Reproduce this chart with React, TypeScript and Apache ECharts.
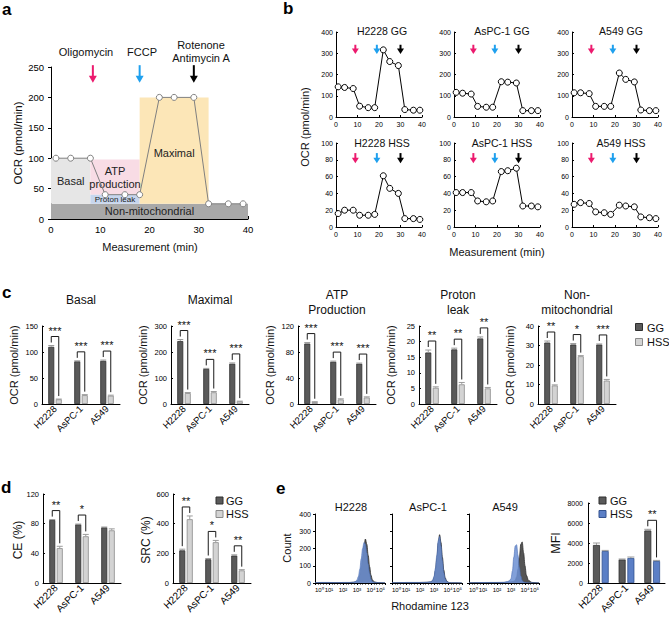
import React, { useEffect, useRef } from "react";
import * as echarts from "echarts";

const FONT = '"Liberation Sans", Arial, Helvetica, sans-serif';

/* ---------------- panel a: scheme ---------------- */
const schemeTime = [1, 4, 8, 11, 15, 18, 22, 25, 29, 32, 36, 39];
const schemeOCR = [100, 100, 100, 40, 40, 40, 200, 200, 200, 25, 25, 25];
const phaseNames = ["Non-mitochondrial", "Basal", "ATP\nproduction", "Proton leak", "Maximal"];
const phaseXRange = [[0, 40], [0, 8], [8, 18], [8, 18], [18, 32]];
const phaseYRange = [[0, 25], [25, 100], [40, 98], [25, 40], [25, 200]];
const injectionNames = ["Oligomycin", "FCCP", "Rotenone\nAntimycin A"];
const injectionTimeA = [8.5, 18, 29];

/* ---------------- panel b: OCR profiles ---------------- */
const profileTime = [1, 4, 8, 11, 15, 18, 22, 25, 29, 32, 36, 39];
const profileTitles = ["H2228 GG", "AsPC-1 GG", "A549 GG", "H2228 HSS", "AsPC-1 HSS", "A549 HSS"];
const h2228GG = [142, 139, 134, 51, 44, 44, 316, 261, 242, 35, 32, 32];
const aspc1GG = [116, 112, 108, 50, 46, 46, 166, 164, 160, 30, 30, 30];
const a549GG = [114, 114, 110, 50, 50, 50, 207, 177, 165, 33, 30, 30];
const h2228HSS = [16, 20, 20, 14, 14, 15, 61, 46, 40, 10, 10, 9];
const aspc1HSS = [41, 41, 41, 31, 30, 31, 66, 67, 70, 25, 25, 24];
const a549HSS = [27, 29, 28, 18, 17, 15, 26, 25, 24, 12, 11, 10];
const injectionTimeB = [9, 19, 30];
const profileYMax = [400, 100];
const profileYStep = [100, 20];

/* ---------------- panel c: parameters ---------------- */
const cellLines = ["H2228", "AsPC-1", "A549"];
const paramTitles = ["Basal", "Maximal", "ATP\nProduction", "Proton\nleak", "Non-\nmitochondrial"];
const basalGG = [110, 82, 83];
const basalHSS = [9, 17, 16];
const basalErrGG = [2.5, 1, 1.5];
const basalErrHSS = [0.5, 1, 1];
const maximalGG = [242, 135, 155];
const maximalHSS = [42, 45, 10];
const maximalErrGG = [6, 2, 3];
const maximalErrHSS = [2, 3, 1];
const atpGG = [93, 65, 62];
const atpHSS = [3, 7, 10];
const atpErrGG = [1.5, 1, 1];
const atpErrHSS = [0.5, 1, 1];
const leakGG = [16.5, 17.5, 21];
const leakHSS = [5.2, 6.3, 5];
const leakErrGG = [0.8, 0.4, 0.5];
const leakErrHSS = [0.3, 0.6, 0.3];
const nonMitoGG = [31.5, 30.5, 30.5];
const nonMitoHSS = [9.5, 24.5, 12];
const nonMitoErrGG = [0.8, 0.5, 0.3];
const nonMitoErrHSS = [0.3, 0.3, 0.6];
const basalStars = ["***", "***", "***"];
const maximalStars = ["***", "***", "***"];
const atpStars = ["***", "***", "***"];
const leakStars = ["**", "**", "**"];
const nonMitoStars = ["**", "*", "***"];
const paramYMax = [150, 300, 120, 25, 40];
const paramYStep = [50, 100, 40, 5, 10];

/* ---------------- panel d ---------------- */
const ceGG = [85, 79, 75];
const ceHSS = [47, 63, 71];
const ceErrGG = [0.5, 0.5, 0.5];
const ceErrHSS = [2.5, 2.5, 2];
const ceStars = ["**", "*", ""];
const srcGG = [220, 160, 185];
const srcHSS = [430, 275, 85];
const srcErrGG = [8, 5, 5];
const srcErrHSS = [22, 12, 5];
const srcStars = ["**", "*", "**"];

/* ---------------- panel e ---------------- */
const histTitles = ["H2228", "AsPC-1", "A549"];
const histBins = [0, 0.5, 1, 1.5, 2, 2.5, 2.75, 2.9, 3.0, 3.1, 3.2, 3.3, 3.4, 3.5, 3.6, 3.7, 3.8, 3.9, 4.0, 4.1, 4.25, 4.5, 5];
const histH2228GG = [2, 3, 3, 2, 3, 3, 4, 6, 10, 20, 45, 90, 150, 215, 255, 225, 160, 95, 45, 18, 6, 2, 1];
const histH2228HSS = [2, 3, 3, 2, 3, 3, 5, 9, 18, 38, 80, 140, 200, 235, 225, 175, 110, 55, 22, 8, 3, 2, 1];
const histAspc1GG = [2, 2, 3, 3, 3, 4, 6, 12, 30, 70, 140, 230, 280, 235, 150, 75, 30, 12, 5, 2, 1, 1, 0];
const histAspc1HSS = [2, 2, 3, 3, 3, 4, 7, 15, 38, 85, 160, 245, 270, 215, 130, 60, 25, 10, 4, 2, 1, 1, 0];
const histA549GG = [2, 2, 2, 3, 3, 3, 4, 5, 6, 8, 10, 15, 35, 80, 150, 225, 238, 175, 100, 45, 15, 3, 1];
const histA549HSS = [2, 2, 3, 3, 3, 4, 8, 14, 25, 70, 150, 215, 222, 160, 90, 40, 15, 6, 3, 2, 1, 1, 0];
const mfiGG = [3800, 2350, 5250];
const mfiHSS = [3200, 2500, 2200];
const mfiErrGG = [200, 50, 120];
const mfiErrHSS = [60, 100, 60];
const mfiStars = ["", "", "**"];
const superDigits = ["\u2070", "\u00b9", "\u00b2", "\u00b3", "\u2074", "\u2075"];

/* ---------------- layout & style (not data) ---------------- */
const GB_LEFT = [336, 454, 572];
const GB_TOP = [32, 143];
const GB_H = [85, 84];
const B_TITLE_X = [382, 502, 621];
const ARROW_B = [[340, 296], [88, 76]];
const GC_LEFT = [42, 171, 298, 419, 538];
const ARROW_COLORS = ["#ec1a6e", "#1fa0ee", "#000000"];
const PHASE_COLORS = ["#a8a8a8", "#e6e6e6", "#f8dce5", "#c7d6ee", "#fce6b7"];
const PHASE_FONT = [11, 11, 11, 8, 11];
const GG_COLOR = "#5a5a5a";
const GG_BORDER = "#2e2e2e";
const HSS_GRAY = "#d3d3d3";
const HSS_GRAY_BORDER = "#8a8a8a";
const HSS_BLUE = "#5b7fc6";
const HSS_BLUE_BORDER = "#34538f";

function buildOption(): any {
  const grid: any[] = [];
  const xAxis: any[] = [];
  const yAxis: any[] = [];
  const series: any[] = [];
  const graphic: any[] = [];

  const text = (t: string, x: number, y: number, fs: number, o: any = {}) => {
    graphic.push({
      type: "text",
      x,
      y,
      rotation: o.rot || 0,
      silent: true,
      z: 100,
      style: {
        text: t,
        fontSize: fs,
        fontFamily: FONT,
        fontWeight: o.bold ? "bold" : "normal",
        fill: o.color || "#111",
        align: o.align || "center",
        verticalAlign: o.va || "middle",
        textAlign: o.align || "center",
        textVerticalAlign: o.va || "middle",
        lineHeight: o.lh || Math.round(fs * 1.2),
      },
    });
  };
  const legendBox = (x: number, y: number, fill: string, stroke: string) => {
    graphic.push({ type: "rect", silent: true, z: 100, shape: { x, y, width: 7, height: 7 }, style: { fill, stroke, lineWidth: 1 } });
  };

  const addGrid = (left: number, top: number, width: number, height: number) => {
    grid.push({ left, top, width, height });
    return grid.length - 1;
  };
  const axisBase = (gi: number, fs: number, margin: number, tickInside: boolean, tickLen = 3) => ({
    gridIndex: gi,
    axisLine: { show: true, onZero: false, lineStyle: { color: "#000", width: 1 } },
    axisTick: { show: true, inside: tickInside, length: tickLen, lineStyle: { color: "#000", width: 1 } },
    axisLabel: { fontSize: fs, color: "#000", fontFamily: FONT, margin, formatter: (v: number) => String(v) },
    splitLine: { show: false },
  });
  const valAxis = (gi: number, min: number, max: number, interval: number, fs: number, margin: number, tickInside: boolean, tickLen = 3) => ({
    type: "value",
    min,
    max,
    interval,
    ...axisBase(gi, fs, margin, tickInside, tickLen),
  });
  const catAxis = (gi: number, fs: number) => ({
    type: "category",
    data: cellLines,
    ...axisBase(gi, fs, 4, false),
    axisTick: { show: false },
    axisLabel: { fontSize: fs, color: "#000", fontFamily: FONT, margin: 3, rotate: 45, interval: 0 },
  });

  const arrowSeries = (gi: number, times: number[], top: number, bottom: number, shaftW: number, headHalf: number, headH: number) => ({
    type: "custom",
    xAxisIndex: gi,
    yAxisIndex: gi,
    z: 6,
    silent: true,
    clip: false,
    data: times.map((t, i) => [t, top, bottom, i]),
    renderItem: (params: any, api: any) => {
      const x = api.value(0);
      const p1 = api.coord([x, api.value(1)]);
      const p2 = api.coord([x, api.value(2)]);
      const col = ARROW_COLORS[api.value(3)];
      return {
        type: "group",
        children: [
          { type: "line", shape: { x1: p1[0], y1: p1[1], x2: p1[0], y2: p2[1] - headH + 0.5 }, style: { stroke: col, lineWidth: shaftW } },
          {
            type: "polygon",
            shape: { points: [[p2[0] - headHalf, p2[1] - headH], [p2[0] + headHalf, p2[1] - headH], [p2[0], p2[1]]] },
            style: { fill: col },
          },
        ],
      };
    },
  });

  const barPair = (gi: number, gg: number[], hss: number[], hssFill: string, hssStroke: string, bw: number) => {
    series.push({
      type: "bar",
      name: "GG",
      xAxisIndex: gi,
      yAxisIndex: gi,
      data: gg,
      barWidth: bw,
      barGap: "25%",
      z: 3,
      itemStyle: { color: GG_COLOR, borderColor: GG_BORDER, borderWidth: 0.8 },
    });
    series.push({
      type: "bar",
      name: "HSS",
      xAxisIndex: gi,
      yAxisIndex: gi,
      data: hss,
      barWidth: bw,
      barGap: "25%",
      z: 3,
      itemStyle: { color: hssFill, borderColor: hssStroke, borderWidth: 0.8 },
    });
  };

  const sigSeries = (gi: number, gg: number[], hss: number[], eg: number[], eh: number[], stars: string[], bw: number, starFs: number) => ({
    type: "custom",
    xAxisIndex: gi,
    yAxisIndex: gi,
    z: 6,
    silent: true,
    clip: false,
    data: gg.map((v, i) => [i, v, hss[i], eg[i], eh[i]]),
    renderItem: (params: any, api: any) => {
      const i = api.value(0);
      const off = (bw + bw * 0.25) / 2;
      const base = api.coord([i, 0]);
      const xg = base[0] - off;
      const xh = base[0] + off;
      const gv = api.value(1);
      const hv = api.value(2);
      const ge = api.value(3);
      const he = api.value(4);
      const gTop = api.coord([i, gv + ge])[1];
      const gVal = api.coord([i, gv])[1];
      const hTop = api.coord([i, hv + he])[1];
      const hVal = api.coord([i, hv])[1];
      const err = "#9c9c9c";
      const children: any[] = [
        { type: "line", shape: { x1: xg, y1: gVal, x2: xg, y2: gTop }, style: { stroke: err, lineWidth: 1 } },
        { type: "line", shape: { x1: xg - bw / 2, y1: gTop, x2: xg + bw / 2, y2: gTop }, style: { stroke: err, lineWidth: 1 } },
        { type: "line", shape: { x1: xh, y1: hVal, x2: xh, y2: hTop }, style: { stroke: err, lineWidth: 1 } },
        { type: "line", shape: { x1: xh - bw / 2, y1: hTop, x2: xh + bw / 2, y2: hTop }, style: { stroke: err, lineWidth: 1 } },
      ];
      const s = stars[params.dataIndex];
      if (s) {
        const yg = gTop - 3;
        const yh = hTop - 3;
        const yt = Math.min(yg, yh) - 6;
        children.push({
          type: "polyline",
          shape: { points: [[xg, yg], [xg, yt], [xh, yt], [xh, yh]] },
          style: { stroke: "#1a1a1a", lineWidth: 1, fill: null },
        });
        children.push({
          type: "text",
          style: {
            text: s,
            x: (xg + xh) / 2,
            y: yt - 0.5,
            align: "center",
            verticalAlign: "bottom",
            textAlign: "center",
            textVerticalAlign: "bottom",
            fontSize: starFs,
            fontFamily: FONT,
            fill: "#111",
          },
        });
      }
      return { type: "group", children };
    },
  });

  /* ===== panel a ===== */
  const ga = addGrid(51, 67, 197, 152);
  xAxis.push(valAxis(ga, 0, 40, 10, 9.5, 5, true));
  yAxis.push(valAxis(ga, 0, 250, 50, 9.5, 7, false));
  series.push({
    type: "custom",
    xAxisIndex: ga,
    yAxisIndex: ga,
    z: 1,
    silent: true,
    data: phaseNames.map((_, i) => [phaseXRange[i][0], phaseYRange[i][0], phaseXRange[i][1], phaseYRange[i][1], i]),
    renderItem: (params: any, api: any) => {
      const i = api.value(4);
      const p0 = api.coord([api.value(0), api.value(1)]);
      const p1 = api.coord([api.value(2), api.value(3)]);
      return {
        type: "group",
        children: [
          { type: "rect", shape: { x: p0[0], y: p1[1], width: p1[0] - p0[0], height: p0[1] - p1[1] }, style: { fill: PHASE_COLORS[i] } },
          {
            type: "text",
            z2: 10,
            style: {
              text: phaseNames[i],
              x: (p0[0] + p1[0]) / 2,
              y: (p0[1] + p1[1]) / 2 + (i === 4 ? 2 : 0),
              align: "center",
              verticalAlign: "middle",
              textAlign: "center",
              textVerticalAlign: "middle",
              fontSize: PHASE_FONT[i],
              fontFamily: FONT,
              fill: "#222",
              lineHeight: 13,
            },
          },
        ],
      };
    },
  });
  series.push({
    type: "line",
    xAxisIndex: ga,
    yAxisIndex: ga,
    z: 4,
    data: schemeTime.map((t, i) => [t, schemeOCR[i]]),
    symbol: "circle",
    symbolSize: 6,
    lineStyle: { color: "#808080", width: 1 },
    itemStyle: { color: "#fff", borderColor: "#808080", borderWidth: 1 },
  });
  series.push(arrowSeries(ga, injectionTimeA, 253, 224, 2, 4, 7));
  text(injectionNames[0], 86, 52, 11);
  text(injectionNames[1], 142, 52, 11);
  text(injectionNames[2], 201, 51.5, 11, { lh: 13 });
  text("OCR (pmol/min)", 18, 143, 11.5, { rot: Math.PI / 2 });
  text("Measurement (min)", 150, 247, 11);
  text("a", 2, 9, 17, { bold: true, align: "left", color: "#000" });

  /* ===== panel b ===== */
  const profiles = [h2228GG, aspc1GG, a549GG, h2228HSS, aspc1HSS, a549HSS];
  profiles.forEach((vals, k) => {
    const r = Math.floor(k / 3);
    const c = k % 3;
    const gi = addGrid(GB_LEFT[c], GB_TOP[r], 86, GB_H[r]);
    xAxis.push(valAxis(gi, 0, 40, 10, 7, 4, true, 2));
    yAxis.push(valAxis(gi, 0, profileYMax[r], profileYStep[r], 7, 3, true, 2));
    series.push({
      type: "line",
      xAxisIndex: gi,
      yAxisIndex: gi,
      z: 4,
      data: profileTime.map((t, i) => [t, vals[i]]),
      symbol: "circle",
      symbolSize: 6,
      lineStyle: { color: "#000", width: 1 },
      itemStyle: { color: "#fff", borderColor: "#000", borderWidth: 1 },
    });
    series.push(arrowSeries(gi, injectionTimeB, ARROW_B[r][0], ARROW_B[r][1], 2, 3.5, 5.5));
    text(profileTitles[k], B_TITLE_X[c], r === 0 ? 31 : 143, 10.5);
  });
  text("OCR (pmol/min)", 305, 127, 11, { rot: Math.PI / 2 });
  text("Measurement (min)", 497, 252, 11);
  text("b", 283, 8, 17, { bold: true, align: "left", color: "#000" });

  /* ===== panel c ===== */
  const cGG = [basalGG, maximalGG, atpGG, leakGG, nonMitoGG];
  const cHSS = [basalHSS, maximalHSS, atpHSS, leakHSS, nonMitoHSS];
  const cEG = [basalErrGG, maximalErrGG, atpErrGG, leakErrGG, nonMitoErrGG];
  const cEH = [basalErrHSS, maximalErrHSS, atpErrHSS, leakErrHSS, nonMitoErrHSS];
  const cStars = [basalStars, maximalStars, atpStars, leakStars, nonMitoStars];
  paramTitles.forEach((title, k) => {
    const gi = addGrid(GC_LEFT[k], 326, 78, 78);
    xAxis.push(catAxis(gi, 9.5));
    yAxis.push(valAxis(gi, 0, paramYMax[k], paramYStep[k], 7.5, 4, true, 2));
    barPair(gi, cGG[k], cHSS[k], HSS_GRAY, HSS_GRAY_BORDER, 6);
    series.push(sigSeries(gi, cGG[k], cHSS[k], cEG[k], cEH[k], cStars[k], 6, 11));
    const twoLine = title.indexOf("\n") >= 0;
    text(title, GC_LEFT[k] + 39, twoLine ? 302 : 300, 12, { lh: 15 });
    text("OCR (pmol/min)", GC_LEFT[k] - 28, 365, 11, { rot: Math.PI / 2 });
  });
  legendBox(635.5, 323.5, GG_COLOR, GG_BORDER);
  legendBox(635.5, 338.5, HSS_GRAY, HSS_GRAY_BORDER);
  text("GG", 647, 327.5, 11, { align: "left" });
  text("HSS", 647, 342, 11, { align: "left" });
  text("c", 2, 292, 17, { bold: true, align: "left", color: "#000" });

  /* ===== panel d ===== */
  const gCE = addGrid(43, 494, 78, 89);
  xAxis.push(catAxis(gCE, 10));
  yAxis.push(valAxis(gCE, 0, 120, 40, 7.5, 4, true, 2));
  barPair(gCE, ceGG, ceHSS, HSS_GRAY, HSS_GRAY_BORDER, 6);
  series.push(sigSeries(gCE, ceGG, ceHSS, ceErrGG, ceErrHSS, ceStars, 6, 11));
  const gSRC = addGrid(173, 494, 78, 89);
  xAxis.push(catAxis(gSRC, 10));
  yAxis.push(valAxis(gSRC, 0, 600, 200, 7.5, 4, true, 2));
  barPair(gSRC, srcGG, srcHSS, HSS_GRAY, HSS_GRAY_BORDER, 6);
  series.push(sigSeries(gSRC, srcGG, srcHSS, srcErrGG, srcErrHSS, srcStars, 6, 11));
  text("CE (%)", 18, 540, 12, { rot: Math.PI / 2 });
  text("SRC (%)", 146, 540, 12, { rot: Math.PI / 2 });
  legendBox(216, 497, GG_COLOR, GG_BORDER);
  legendBox(216, 510.5, HSS_GRAY, HSS_GRAY_BORDER);
  text("GG", 226, 500.5, 11, { align: "left" });
  text("HSS", 226, 514, 11, { align: "left" });
  text("d", 1, 487, 17, { bold: true, align: "left", color: "#000" });

  /* ===== panel e ===== */
  const histGG = [histH2228GG, histAspc1GG, histA549GG];
  const histHSS = [histH2228HSS, histAspc1HSS, histA549HSS];
  const histLeft = [315, 392, 469];
  histTitles.forEach((title, k) => {
    const gi = addGrid(histLeft[k], 514, 70, 69);
    const xa: any = valAxis(gi, 0, 5, 1, 6, 4, false, 2);
    xa.axisLabel.formatter = (v: number) => "10" + superDigits[Math.round(v)];
    xa.axisLabel.alignMinLabel = "left";
    xa.axisLabel.alignMaxLabel = "right";
    xa.minorTick = { show: true, splitNumber: 5, length: 1.5, lineStyle: { color: "#000" } };
    xAxis.push(xa);
    const ya: any = valAxis(gi, 0, 400, 100, 7, 4, false, 2);
    if (k > 0) ya.axisLabel.show = false;
    yAxis.push(ya);
    series.push({
      type: "line",
      xAxisIndex: gi,
      yAxisIndex: gi,
      z: 3,
      data: histBins.map((b, j) => [b, histGG[k][j]]),
      smooth: 0.35,
      smoothMonotone: "x",
      showSymbol: false,
      symbol: "none",
      lineStyle: { color: "#2f2f2f", width: 0.8 },
      areaStyle: { color: "#555555", opacity: 1 },
    });
    series.push({
      type: "line",
      xAxisIndex: gi,
      yAxisIndex: gi,
      z: 4,
      data: histBins.map((b, j) => [b, histHSS[k][j]]),
      smooth: 0.35,
      smoothMonotone: "x",
      showSymbol: false,
      symbol: "none",
      lineStyle: { color: "#4a6db3", width: 0.6 },
      areaStyle: { color: "#6c8fd2", opacity: 0.85 },
    });
    text(title, histLeft[k] + 36, 507, 11);
  });
  text("Count", 287, 548, 11, { rot: Math.PI / 2 });
  text("Rhodamine 123", 430, 606, 11);
  text("e", 276, 488, 17, { bold: true, align: "left", color: "#000" });

  const gMFI = addGrid(588, 503, 77, 80);
  xAxis.push(catAxis(gMFI, 10));
  yAxis.push(valAxis(gMFI, 0, 8000, 2000, 7, 5, true, 2));
  barPair(gMFI, mfiGG, mfiHSS, HSS_BLUE, HSS_BLUE_BORDER, 7);
  series.push(sigSeries(gMFI, mfiGG, mfiHSS, mfiErrGG, mfiErrHSS, mfiStars, 7, 11));
  text("MFI", 556, 543, 12.5, { rot: Math.PI / 2 });
  legendBox(599, 497, GG_COLOR, GG_BORDER);
  legendBox(599, 510.5, HSS_BLUE, HSS_BLUE_BORDER);
  text("GG", 610, 500.5, 11, { align: "left" });
  text("HSS", 610, 514, 11, { align: "left" });

  return {
    animation: false,
    backgroundColor: "#ffffff",
    textStyle: { fontFamily: FONT },
    grid,
    xAxis,
    yAxis,
    series,
    graphic,
  };
}

export default function App() {
  const ref = useRef<HTMLDivElement>(null);
  useEffect(() => {
    if (!ref.current) return;
    const chart = echarts.init(ref.current, null, { renderer: "svg" });
    chart.setOption(buildOption());
    return () => chart.dispose();
  }, []);
  return (
    <div
      ref={ref}
      style={{ position: "absolute", left: 0, top: 0, width: 669, height: 625, background: "#fff" }}
    />
  );
}
